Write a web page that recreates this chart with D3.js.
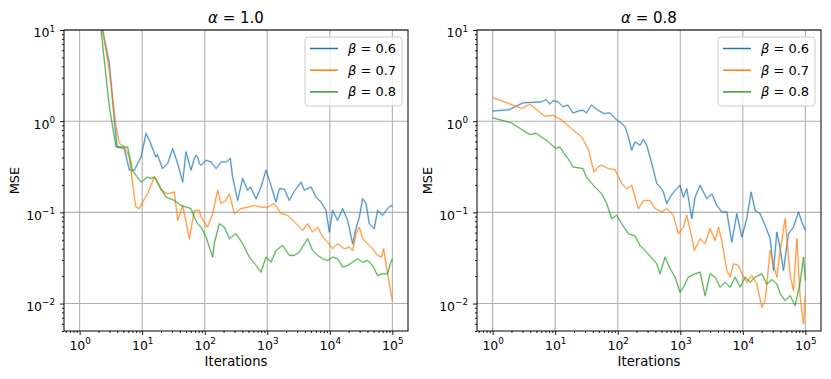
<!DOCTYPE html>
<html>
<head>
<meta charset="utf-8">
<script src="https://cdn.jsdelivr.net/npm/d3@7"></script>
<style>
  body { margin: 0; background: #fff; }
  svg { display: block; font-family: "DejaVu Sans", sans-serif; }
</style>
</head>
<body>
<div id="canva"></div>
<script>
// values: [iteration, MSE]
const panelTitles = ['1.0', '0.8'];
const betaLabels = ['0.6', '0.7', '0.8'];
const colors = ['#1f77b4', '#ff7f0e', '#2ca02c'];
const xTicks = [1, 10, 100, 1000, 10000, 100000];
const yTicks = [0.01, 0.1, 1, 10];

const alpha10beta06 = [
  [1, 300], [2.33, 10], [2.98, 4.34], [3.59, 1.03], [3.96, 0.522], [5.18, 0.501], [6.23, 0.290],
  [7.49, 0.290], [9.59, 0.405], [11.5, 0.733], [13.0, 0.618], [16.6, 0.405], [17.5, 0.43],
  [21.2, 0.302], [25.5, 0.343], [30.7, 0.501], [36.9, 0.343], [44.4, 0.215], [50.2, 0.460],
  [60.4, 0.290], [68.2, 0.389], [72.6, 0.423], [77, 0.405], [82, 0.343], [87.3, 0.328],
  [105, 0.373], [126, 0.357], [152, 0.302], [182, 0.357], [219, 0.357], [257, 0.389],
  [279, 0.244], [336, 0.135], [404, 0.235], [485, 0.175], [540, 0.19], [661, 0.141],
  [794, 0.190], [955, 0.290], [1079, 0.225], [1380, 0.130], [1559, 0.182], [1880, 0.18],
  [2252, 0.135], [2706, 0.170], [3464, 0.215], [3911, 0.175], [5000, 0.190], [6010, 0.147],
  [7231, 0.130], [8695, 0.105], [9817, 0.0608], [11090, 0.105], [13330, 0.0817],
  [16030, 0.110], [19270, 0.0817], [23170, 0.0453], [26250, 0.0662], [29640, 0.0887],
  [33500, 0.141], [38000, 0.125], [42760, 0.0751], [51400, 0.0662], [58080, 0.105],
  [69840, 0.0927], [83950, 0.110], [95100, 0.119], [100000, 0.115]
];
const alpha10beta07 = [
  [1, 300], [2.33, 10], [2.98, 3.63], [3.82, 0.866], [4.31, 0.573], [5.18, 0.522], [6.23, 0.405],
  [7.49, 0.147], [7.97, 0.114], [9.0, 0.110], [10.2, 0.130], [12.2, 0.160], [15.6, 0.244],
  [16.6, 0.235], [20.0, 0.175], [25.5, 0.160], [32.7, 0.167], [36.9, 0.0817], [44.4, 0.119],
  [56.7, 0.0514], [68.2, 0.105], [82, 0.105], [87.3, 0.0887], [111, 0.0689], [134, 0.0968],
  [161, 0.175], [182, 0.125], [219, 0.135], [248, 0.160], [297, 0.0968], [380, 0.110],
  [485, 0.114], [621, 0.119], [794, 0.114], [1013, 0.114], [1297, 0.125], [1660, 0.0968],
  [2115, 0.0927], [2706, 0.0790], [3675, 0.0634], [4416, 0.0751], [5309, 0.0608],
  [6385, 0.0689], [7676, 0.0536], [9226, 0.0472], [11090, 0.0399], [13330, 0.0453],
  [17060, 0.0399], [20500, 0.0416], [23170, 0.0382], [26250, 0.0583], [29640, 0.0689],
  [33500, 0.0514], [40180, 0.0453], [48310, 0.0399], [58080, 0.0337], [67300, 0.0323],
  [72440, 0.0399], [83950, 0.0212], [100000, 0.0108]
];
const alpha10beta08 = [
  [1, 300], [2.2, 10], [2.98, 1.44], [3.82, 0.522], [5.85, 0.522], [6.96, 0.290], [9.59, 0.215],
  [12.1, 0.244], [13.5, 0.235], [15.6, 0.244], [24.1, 0.147], [32.7, 0.135], [41.8, 0.119],
  [60.4, 0.110], [68.2, 0.0887], [77, 0.0751], [87.3, 0.0689], [105, 0.0536], [134, 0.0323],
  [142, 0.0453], [171, 0.0751], [206, 0.0689], [248, 0.0514], [316, 0.0583], [404, 0.0453],
  [516, 0.0323], [661, 0.0262], [794, 0.0221], [955, 0.0323], [1148, 0.0284], [1380, 0.0382],
  [1758, 0.0434], [2252, 0.0337], [2706, 0.0337], [3252, 0.0366], [3911, 0.0453],
  [4416, 0.0514], [5309, 0.0382], [6385, 0.0337], [7676, 0.0310], [9226, 0.0297],
  [11090, 0.0323], [13330, 0.0310], [16030, 0.0251], [19270, 0.0262], [23170, 0.0284],
  [27860, 0.0310], [33500, 0.0284], [40180, 0.0297], [48310, 0.0262], [58080, 0.0203],
  [69840, 0.0212], [83950, 0.0212], [92700, 0.0273], [100000, 0.0310]
];

const alpha08beta06 = [
  [1, 1.29], [1.87, 1.34], [3.05, 1.59], [6.0, 1.63], [7.20, 1.73], [8.17, 1.54], [9.22, 1.67],
  [11.1, 1.63], [13.3, 1.44], [16.0, 1.50], [19.3, 1.23], [23.2, 1.29], [27.9, 1.32],
  [31.5, 1.23], [37.8, 1.50], [48.4, 1.32], [58.9, 1.22], [62.6, 1.22], [75.3, 1.23],
  [90.5, 1.07], [116, 0.944], [131, 0.866], [148, 0.672], [167, 0.480], [189, 0.593],
  [227, 0.545], [257, 0.630], [291, 0.545], [350, 0.343], [421, 0.207], [475, 0.190],
  [537, 0.167], [608, 0.125], [687, 0.147], [826, 0.175], [993, 0.198], [1122, 0.147],
  [1271, 0.182], [1528, 0.0853], [1725, 0.147], [2074, 0.198], [2655, 0.141], [3191, 0.160],
  [3837, 0.119], [4613, 0.101], [5546, 0.101], [6668, 0.0472], [8017, 0.0968],
  [9638, 0.0536], [11580, 0.0853], [13580, 0.167], [15740, 0.105], [18920, 0.0968],
  [22750, 0.0720], [27350, 0.0514], [30900, 0.0231], [34990, 0.0608], [39540, 0.0399],
  [44670, 0.0231], [53700, 0.0583], [64540, 0.0689], [77610, 0.101], [87900, 0.0782],
  [100000, 0.0634]
];
const alpha08beta07 = [
  [1, 1.82], [2.91, 1.38], [3.95, 1.53], [6.87, 1.13], [9.22, 1.16], [12.7, 1.03],
  [18.1, 0.831], [26.5, 0.672], [33.5, 0.501], [41.8, 0.277], [48.4, 0.315], [55.5, 0.328],
  [70.8, 0.302], [90.5, 0.294], [116, 0.207], [139, 0.182], [167, 0.198], [214, 0.110],
  [257, 0.135], [329, 0.135], [395, 0.110], [506, 0.101], [608, 0.110], [776, 0.0927],
  [933, 0.0583], [1122, 0.0689], [1271, 0.0927], [1528, 0.0536], [1682, 0.0382],
  [1950, 0.0472], [2074, 0.0514], [2493, 0.0453], [2999, 0.0662], [3605, 0.0492],
  [4074, 0.0689], [4613, 0.0492], [5546, 0.0231], [6266, 0.0195], [7080, 0.0273],
  [8511, 0.0262], [10230, 0.0195], [11580, 0.0171], [13930, 0.0203], [16750, 0.0164],
  [20140, 0.0091], [22750, 0.0108], [27350, 0.0382], [30900, 0.0273], [34990, 0.0195],
  [39540, 0.0382], [47530, 0.0853], [57150, 0.0203], [64540, 0.0139], [73110, 0.0514],
  [82600, 0.0117], [93300, 0.0060], [100000, 0.0122]
];
const alpha08beta08 = [
  [1, 1.09], [1.99, 0.958], [3.91, 0.714], [4.99, 0.733], [7.20, 0.618], [10.4, 0.501],
  [11.8, 0.522], [16.0, 0.389], [19.3, 0.315], [27.9, 0.302], [31.5, 0.244], [42.9, 0.190],
  [55.5, 0.160], [66.7, 0.125], [80.2, 0.0853], [96.4, 0.0927], [116, 0.0751], [148, 0.0583],
  [189, 0.0550], [227, 0.0434], [273, 0.0382], [421, 0.0273], [475, 0.0212], [571, 0.0323],
  [687, 0.0241], [826, 0.0195], [993, 0.0133], [1122, 0.0151], [1349, 0.0195],
  [1725, 0.0212], [2074, 0.0221], [2493, 0.0122], [2999, 0.0212], [3605, 0.0195],
  [4335, 0.0151], [5212, 0.0171], [6266, 0.0151], [7530, 0.0195], [9057, 0.0151],
  [10880, 0.0195], [13090, 0.0171], [15740, 0.0195], [20140, 0.0212], [24210, 0.0164],
  [29110, 0.0183], [34990, 0.0164], [39540, 0.0128], [47530, 0.0108], [57150, 0.0122],
  [68700, 0.0095], [82600, 0.0171], [93300, 0.0323], [100000, 0.0179]
];

const panels = [
  { title: panelTitles[0], left: 64, series: [alpha10beta06, alpha10beta07, alpha10beta08] },
  { title: panelTitles[1], left: 477, series: [alpha08beta06, alpha08beta07, alpha08beta08] }
];

const width = 831, height = 379;
const plotW = 344, plotTop = 30, plotBottom = 331;

const svg = d3.select('#canva').append('svg')
  .attr('width', width)
  .attr('height', height)
  .attr('viewBox', `0 0 ${width} ${height}`);

function minorTicks(lo, hi) {
  const out = [];
  for (let e = lo; e <= hi; e++) {
    for (let m = 2; m <= 9; m++) out.push(m * Math.pow(10, e));
  }
  return out;
}

function superscript(sel) {
  sel.each(function(d) {
    const t = d3.select(this);
    const exp = Math.round(Math.log10(d));
    t.text(null);
    t.append('tspan').text('10');
    t.append('tspan')
      .attr('dy', -5.5)
      .attr('font-size', 8.8)
      .text(exp < 0 ? '\u2212' + (-exp) : exp);
  });
}

panels.forEach((p, pi) => {
  const x = d3.scaleLog().domain([Math.pow(10, -0.25), Math.pow(10, 5.25)]).range([p.left, p.left + plotW]);
  const y = d3.scaleLog().domain([0.005, 10]).range([plotBottom, plotTop]);
  const g = svg.append('g');

  // grid
  g.append('g').selectAll('line').data(xTicks).enter().append('line')
    .attr('x1', d => x(d)).attr('x2', d => x(d))
    .attr('y1', plotTop).attr('y2', plotBottom)
    .attr('stroke', '#b0b0b0').attr('stroke-width', 1.1);
  g.append('g').selectAll('line').data(yTicks).enter().append('line')
    .attr('x1', p.left).attr('x2', p.left + plotW)
    .attr('y1', d => y(d)).attr('y2', d => y(d))
    .attr('stroke', '#b0b0b0').attr('stroke-width', 1.1);

  // lines
  const clipId = 'clip' + pi;
  svg.append('clipPath').attr('id', clipId).append('rect')
    .attr('x', p.left).attr('y', plotTop).attr('width', plotW).attr('height', plotBottom - plotTop);

  const line = d3.line().x(d => x(d[0])).y(d => y(d[1]));
  const lines = g.append('g').attr('clip-path', `url(#${clipId})`);
  p.series.forEach((s, si) => {
    lines.append('path').datum(s)
      .attr('d', line)
      .attr('fill', 'none')
      .attr('stroke', colors[si])
      .attr('stroke-opacity', 0.22)
      .attr('stroke-width', 2.2)
      .attr('stroke-linejoin', 'round');
    lines.append('path').datum(s)
      .attr('d', line)
      .attr('fill', 'none')
      .attr('stroke', colors[si])
      .attr('stroke-opacity', 0.85)
      .attr('stroke-width', 0.9)
      .attr('stroke-linejoin', 'round');
  });

  // axes
  const xAxis = g.append('g').attr('transform', `translate(0,${plotBottom})`)
    .call(d3.axisBottom(x).tickValues(xTicks).tickSize(4).tickPadding(6));
  xAxis.selectAll('.tick text').attr('font-size', 12.5).attr('font-family', 'DejaVu Sans').attr('fill', '#000').call(superscript);
  g.append('g').attr('transform', `translate(0,${plotBottom})`)
    .call(d3.axisBottom(x).tickValues(minorTicks(-1, 5).filter(v => v >= 0.57 && v <= 170000)).tickSize(2).tickFormat(''));

  const yAxis = g.append('g').attr('transform', `translate(${p.left},0)`)
    .call(d3.axisLeft(y).tickValues(yTicks).tickSize(4).tickPadding(5));
  yAxis.selectAll('.tick text').attr('font-size', 12.5).attr('font-family', 'DejaVu Sans').attr('fill', '#000').attr('dy', '0.55em').call(superscript);
  g.append('g').attr('transform', `translate(${p.left},0)`)
    .call(d3.axisLeft(y).tickValues(minorTicks(-3, 0).filter(v => v >= 0.005 && v <= 10)).tickSize(2).tickFormat(''));

  g.selectAll('.domain').remove();
  g.selectAll('.tick line').attr('stroke', '#000').attr('stroke-width', 0.9);

  // frame
  g.append('rect')
    .attr('x', p.left).attr('y', plotTop)
    .attr('width', plotW).attr('height', plotBottom - plotTop)
    .attr('fill', 'none').attr('stroke', '#000').attr('stroke-width', 1);

  // labels
  const cx = p.left + plotW / 2;
  const title = g.append('text').attr('x', cx).attr('y', 22.5)
    .attr('text-anchor', 'middle').attr('font-size', 15);
  title.append('tspan').attr('font-style', 'italic').text('\u03b1');
  title.append('tspan').text(' = ' + p.title);

  g.append('text').attr('x', cx).attr('y', 366)
    .attr('text-anchor', 'middle').attr('font-size', 13.2).text('Iterations');

  g.append('text')
    .attr('transform', `translate(${p.left - 45},${(plotTop + plotBottom) / 2}) rotate(-90)`)
    .attr('text-anchor', 'middle').attr('font-size', 13).text('MSE');

  // legend
  const lx = p.left + plotW - 103, ly = plotTop + 7;
  const legend = g.append('g');
  legend.append('rect')
    .attr('x', lx).attr('y', ly).attr('width', 97).attr('height', 69)
    .attr('rx', 3)
    .attr('fill', '#fff').attr('fill-opacity', 0.8)
    .attr('stroke', '#cccccc').attr('stroke-width', 1);
  betaLabels.forEach((b, i) => {
    const yy = ly + 11.5 + i * 21.7;
    legend.append('line')
      .attr('x1', lx + 5).attr('x2', lx + 33)
      .attr('y1', yy).attr('y2', yy)
      .attr('stroke', colors[i]).attr('stroke-width', 1.5);
    const t = legend.append('text').attr('x', lx + 43).attr('y', yy + 4.5).attr('font-size', 13);
    t.append('tspan').attr('font-style', 'italic').text('\u03b2');
    t.append('tspan').text(' = ' + b);
  });
});
</script>
</body>
</html>
